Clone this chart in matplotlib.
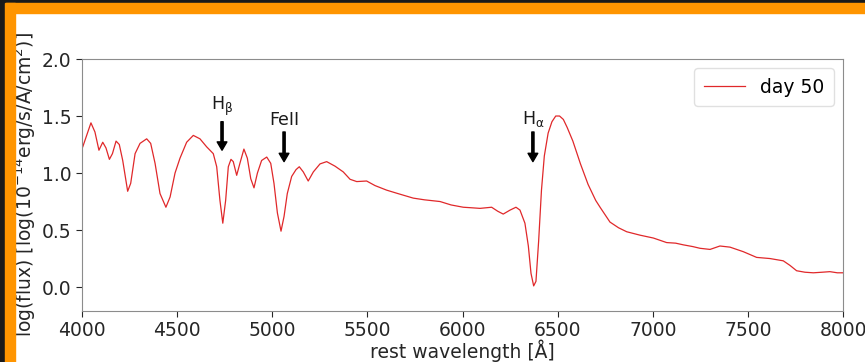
import numpy as np
import matplotlib
matplotlib.use("Agg")
import matplotlib.pyplot as plt
from matplotlib.patches import Rectangle

# day 50 spectrum, rest frame
wave = [4004, 4047, 4068, 4089, 4109, 4126, 4144, 4160, 4179, 4196,
        4214, 4240, 4256, 4279, 4305, 4340, 4361, 4384, 4410, 4441,
        4463, 4489, 4515, 4550, 4585, 4620, 4655, 4690, 4708, 4725,
        4740, 4755, 4769, 4783, 4795, 4813, 4830, 4851, 4869, 4887,
        4904, 4922, 4944, 4971, 4992, 5009, 5027, 5046, 5062, 5079,
        5102, 5125, 5142, 5163, 5189, 5216, 5251, 5286, 5330, 5373,
        5409, 5444, 5496, 5540, 5601, 5660, 5741, 5800, 5882, 5940,
        6004, 6050, 6092, 6153, 6185, 6214, 6250, 6281, 6302, 6328,
        6346, 6360, 6374, 6386, 6400, 6415, 6430, 6450, 6470, 6490,
        6510, 6530, 6550, 6580, 6620, 6660, 6700, 6723, 6775, 6820,
        6863, 6933, 7003, 7073, 7120, 7161, 7210, 7248, 7301, 7353,
        7406, 7476, 7546, 7616, 7686, 7721, 7756, 7800, 7844, 7890,
        7931, 7970, 8000]
flux = [1.23, 1.44, 1.36, 1.20, 1.27, 1.22, 1.12, 1.17, 1.28, 1.25,
        1.11, 0.84, 0.91, 1.17, 1.26, 1.30, 1.26, 1.085, 0.82, 0.70,
        0.79, 1.00, 1.13, 1.27, 1.33, 1.30, 1.23, 1.17, 1.055, 0.76,
        0.56, 0.76, 1.055, 1.12, 1.10, 0.98, 1.085, 1.21, 1.13, 0.95,
        0.87, 1.00, 1.11, 1.14, 1.085, 0.91, 0.65, 0.49, 0.62, 0.82,
        0.97, 1.03, 1.055, 1.01, 0.93, 1.01, 1.08, 1.10, 1.06, 1.01,
        0.945, 0.925, 0.93, 0.89, 0.85, 0.82, 0.78, 0.765, 0.75, 0.72,
        0.70, 0.695, 0.69, 0.70, 0.665, 0.64, 0.675, 0.70, 0.675, 0.56,
        0.36, 0.12, 0.01, 0.05, 0.40, 0.85, 1.15, 1.35, 1.45, 1.50,
        1.50, 1.47, 1.40, 1.28, 1.08, 0.90, 0.76, 0.70, 0.57, 0.52,
        0.485, 0.455, 0.43, 0.39, 0.385, 0.37, 0.355, 0.34, 0.33, 0.36,
        0.35, 0.31, 0.26, 0.25, 0.23, 0.19, 0.143, 0.13, 0.125, 0.13,
        0.135, 0.125, 0.125]

# line identifications: label, wavelength, arrow tail, arrow tip
line_ids = ["H$_\\mathregular{β}$", "FeII", "H$_\\mathregular{α}$"]
line_wave = [4736, 5062, 6370]
arrow_tail = [1.45, 1.36, 1.36]
arrow_tip = [1.2, 1.1, 1.1]

fig = plt.figure(figsize=(8.65, 3.62), dpi=100)
ax = fig.add_axes([0.0948, 0.1409, 0.8798, 0.6961])

ax.plot(wave, flux, color="#e0282a", lw=0.9, label="day 50")

for name, wl, y0, y1 in zip(line_ids, line_wave, arrow_tail, arrow_tip):
    ax.annotate("", xy=(wl, y1), xytext=(wl, y0),
                arrowprops=dict(facecolor="black", edgecolor="black",
                                width=1.6, headwidth=7, headlength=6,
                                shrink=0))
    ax.text(wl, y0 + 0.03, name, ha="center", va="bottom", fontsize=12.5,
            color="0.1")

ax.set_xlim(4000, 8000)
ax.set_ylim(-0.21, 2.0)
ax.set_xticks(np.arange(4000, 8001, 500))
ax.set_yticks(np.arange(0, 2.01, 0.5))
ax.tick_params(labelsize=13.5, colors="0.15", length=4)
for sp in ax.spines.values():
    sp.set_color("0.55")

ax.set_xlabel("rest wavelength [Å]", fontsize=13.5, color="0.15", labelpad=-1)
ax.set_ylabel("log(flux) [log(10$^{-14}$erg/s/Å/cm$^2$)]", fontsize=13.5,
              color="0.15")
ax.yaxis.set_label_coords(-0.059, 0.5)

leg = ax.legend(loc="upper right", fontsize=13.5, handlelength=2.2,
                borderpad=0.5, framealpha=0.8)
leg.get_frame().set_edgecolor("0.85")

# frame around the panel
orange = "#ff9500"
fig.add_artist(Rectangle((0, 1 - 3 / 362), 1, 3 / 362, transform=fig.transFigure,
                         color="#1a1a1a", zorder=20))
fig.add_artist(Rectangle((0, 1 - 13 / 362), 1, 10 / 362, transform=fig.transFigure,
                         color=orange, zorder=20))
fig.add_artist(Rectangle((0, 0), 5 / 865, 1, transform=fig.transFigure,
                         color="#1a1a1a", zorder=20))
fig.add_artist(Rectangle((5 / 865, 0), 10 / 865, 1 - 3 / 362,
                         transform=fig.transFigure, color=orange, zorder=20))

fig.savefig("out.png", dpi=100)
